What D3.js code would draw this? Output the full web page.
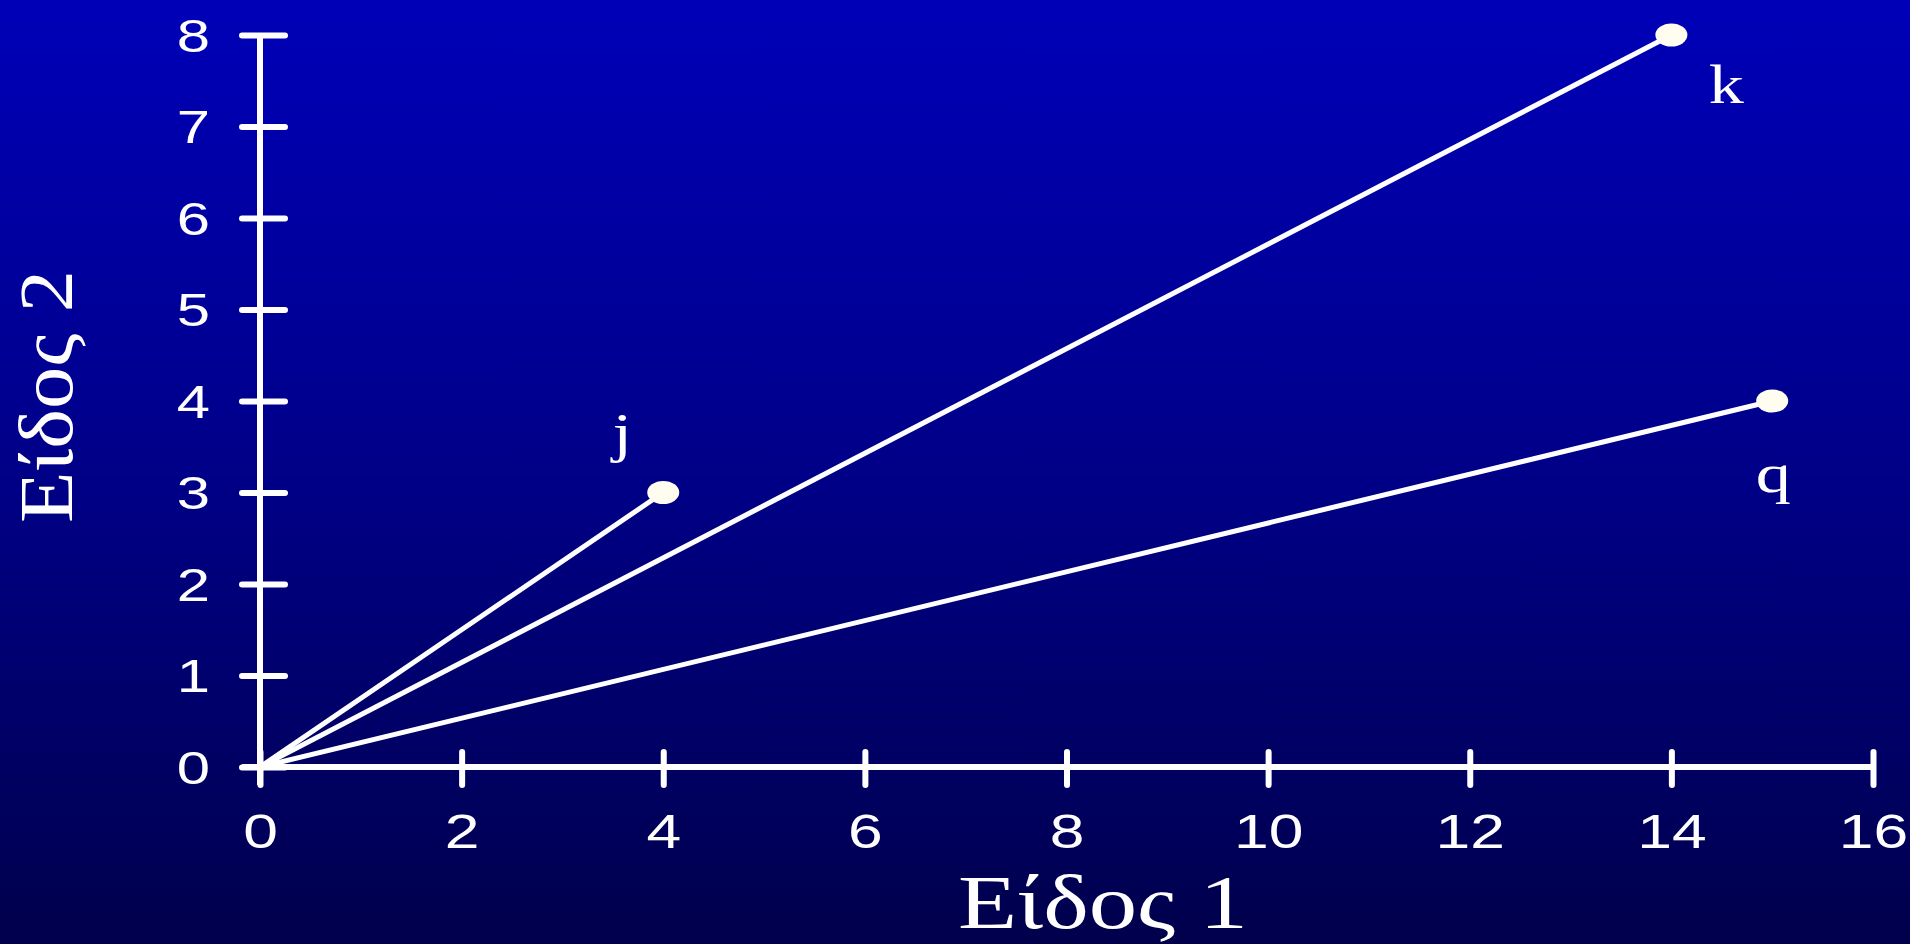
<!DOCTYPE html>
<html>
<head>
<meta charset="utf-8">
<script src="https://cdn.jsdelivr.net/npm/d3@7"></script>
<style>
    html, body { margin: 0; padding: 0; overflow: hidden; background: #000050; }
    svg { display: block; }
</style>
</head>
<body>
<svg id="chart"></svg>
<script>
"use strict";

// vectors drawn from the origin
var names = ['j', 'k', 'q'];
var xValues = [4, 14, 15];
var yValues = [3, 8, 4];

var xTicks = [0, 2, 4, 6, 8, 10, 12, 14, 16];
var yTicks = [0, 1, 2, 3, 4, 5, 6, 7, 8];

var xTitle = 'Είδος 1';
var yTitle = 'Είδος 2';

var width = 1910;
var height = 944;

// the original slide is stretched sideways, so text is widened a bit
var stretch = 1.3;

var svg = d3.select('#chart')
    .attr('width', width)
    .attr('height', height);

// background gradient, bright blue on top to navy at the bottom
var grad = svg.append('defs')
    .append('linearGradient')
    .attr('id', 'bg')
    .attr('x1', 0).attr('y1', 0)
    .attr('x2', 0).attr('y2', 1);
grad.append('stop').attr('offset', '0%').attr('stop-color', '#0000b8');
grad.append('stop').attr('offset', '50%').attr('stop-color', '#000088');
grad.append('stop').attr('offset', '100%').attr('stop-color', '#00004c');

svg.append('rect')
    .attr('width', width)
    .attr('height', height)
    .attr('fill', 'url(#bg)');

var x = d3.scaleLinear().domain([0, 16]).range([260, 1873]);
var y = d3.scaleLinear().domain([0, 8]).range([767, 35]);

var sans = '"Liberation Sans", Arial, sans-serif';
var serif = '"Liberation Serif", "Times New Roman", serif';

// x axis
var gx = svg.append('g')
    .attr('transform', `translate(0,${y(0)})`)
    .call(d3.axisBottom(x).tickValues(xTicks).tickSizeOuter(0).tickFormat(d3.format('d')));

gx.select('.domain')
    .attr('d', `M${x(0) - 18},0H${x(16)}`);
gx.selectAll('.tick line')
    .attr('y1', -15)
    .attr('y2', 18);
gx.selectAll('.tick text')
    .attr('y', 47)
    .attr('dy', '0.71em')
    .attr('font-size', 48)
    .attr('transform', `scale(${stretch},1)`);

// y axis
var gy = svg.append('g')
    .attr('transform', `translate(${x(0)},0)`)
    .call(d3.axisLeft(y).tickValues(yTicks).tickSizeOuter(0).tickFormat(d3.format('d')));

gy.select('.domain')
    .attr('d', `M0,${y(8)}V${y(0) + 18}`);
gy.selectAll('.tick line')
    .attr('x1', -18)
    .attr('x2', 25);
gy.selectAll('.tick text')
    .attr('x', -50 / stretch)
    .attr('dy', '0.35em')
    .attr('font-size', 46)
    .attr('transform', `scale(${stretch},1)`);

[gx, gy].forEach(g => {
    g.attr('font-family', sans);
    g.selectAll('.domain')
        .attr('stroke', '#fff')
        .attr('stroke-width', 6);
    g.selectAll('.tick line')
        .attr('stroke', '#fff')
        .attr('stroke-width', 6)
        .attr('stroke-linecap', 'round');
    g.selectAll('.tick text')
        .attr('fill', '#fff');
});

var points = names.map((n, i) => ({ name: n, x: xValues[i], y: yValues[i] }));

// lines from the origin
svg.append('g')
    .selectAll('line')
    .data(points)
    .enter()
    .append('line')
    .attr('x1', x(0))
    .attr('y1', y(0))
    .attr('x2', d => x(d.x))
    .attr('y2', d => y(d.y))
    .attr('stroke', '#fff')
    .attr('stroke-width', 5);

// end dots
svg.append('g')
    .selectAll('ellipse')
    .data(points)
    .enter()
    .append('ellipse')
    .attr('cx', d => x(d.x))
    .attr('cy', d => y(d.y))
    .attr('rx', 16)
    .attr('ry', 11.5)
    .attr('fill', '#fffdf0');

// point labels, offset a bit from the dots
var labelOffset = {
    j: [-41, -42],
    k: [55, 68],
    q: [1, 91]
};

svg.append('g')
    .selectAll('text')
    .data(points)
    .enter()
    .append('text')
    .attr('transform', d => `translate(${x(d.x) + labelOffset[d.name][0]},${y(d.y) + labelOffset[d.name][1]}) scale(${stretch},1)`)
    .attr('text-anchor', 'middle')
    .attr('font-family', serif)
    .attr('font-size', 54)
    .attr('fill', '#fff')
    .text(d => d.name);

// axis titles
svg.append('text')
    .attr('x', 958)
    .attr('y', 928)
    .attr('font-family', serif)
    .attr('font-size', 76)
    .attr('textLength', 290)
    .attr('lengthAdjust', 'spacingAndGlyphs')
    .attr('fill', '#fff')
    .text(xTitle);

svg.append('text')
    .attr('transform', 'translate(72,523) rotate(-90)')
    .attr('font-family', serif)
    .attr('font-size', 76)
    .attr('textLength', 253)
    .attr('lengthAdjust', 'spacingAndGlyphs')
    .attr('fill', '#fff')
    .text(yTitle);
</script>
</body>
</html>
